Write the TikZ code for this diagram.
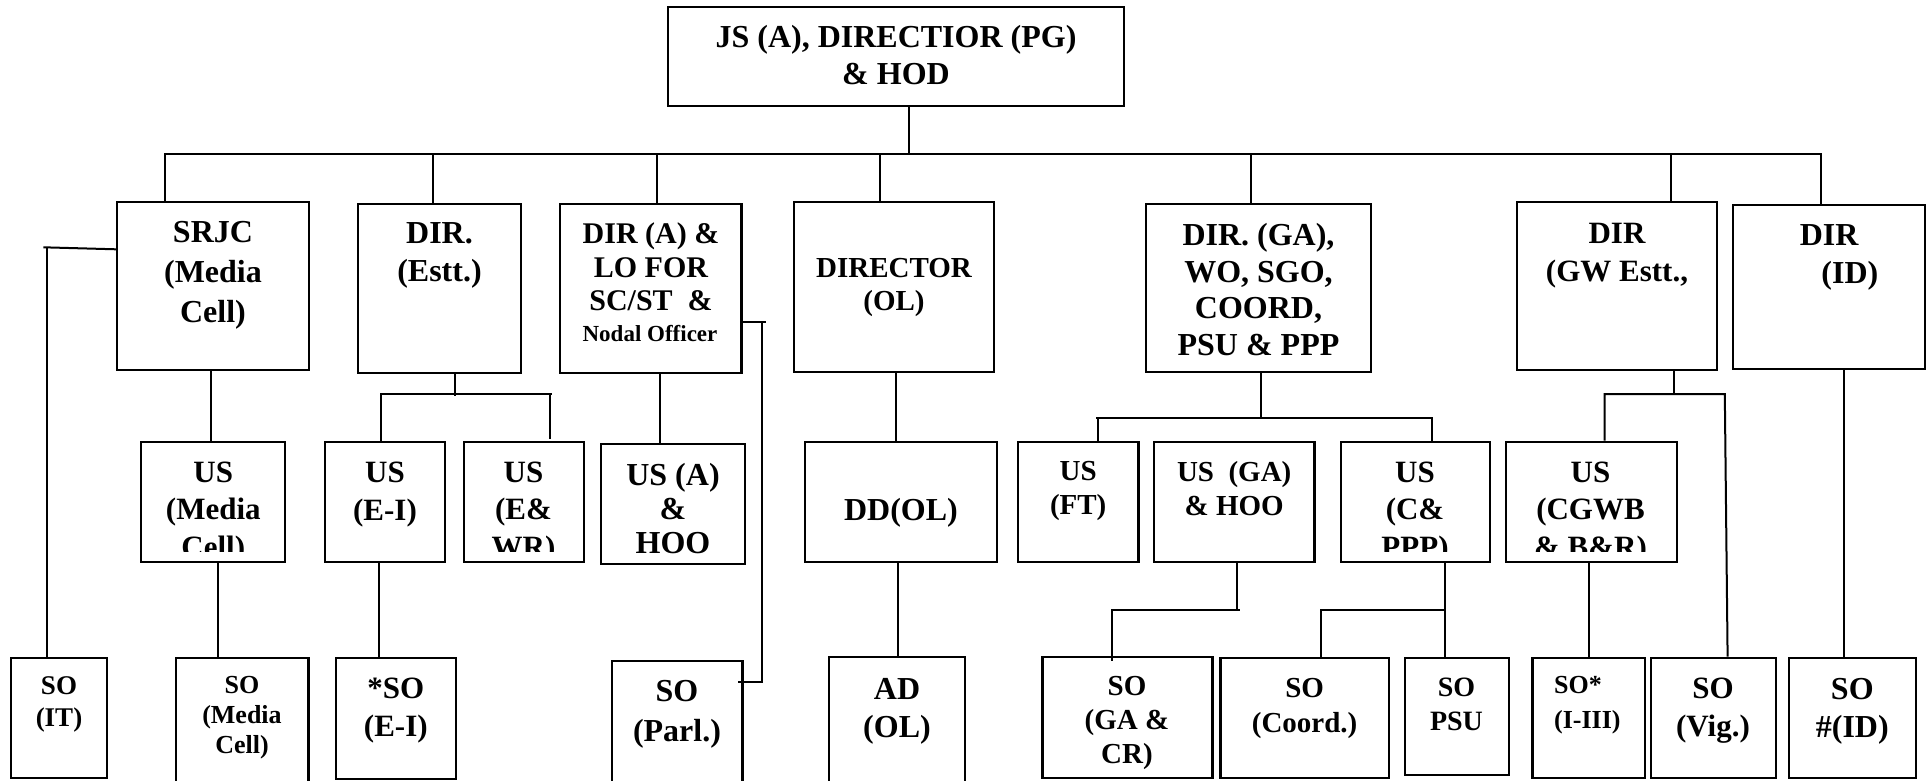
\documentclass[tikz,border=0pt]{standalone}
\usepackage{fontspec}
\setmainfont{Liberation Serif}
\usetikzlibrary{fit}
\newcommand\fsz[2]{\fontsize{#1}{#2}\selectfont\bfseries}
\begin{document}
\begin{tikzpicture}[x=0.5pt,y=-0.5pt,
  box/.style={draw,line width=1.1pt,inner sep=0pt},
  conn/.style={line width=1pt},
  txt/.style={inner sep=0pt,anchor=north,align=center}]
\fill[white] (0,0) rectangle (1927,781);
\useasboundingbox (0,0) rectangle (1927,781);
% ---------- boxes ----------
\node[box,fit={(668,7.3) (1124,105.7)}] (js) {};
\node[box,fit={(117,202) (309,370)}] (srjc) {};
\node[box,fit={(358,204) (521,373)}] (estt) {};
\node[box,fit={(560,204) (741.5,373)}] (dira) {};
\node[box,fit={(794,202) (994,372)}] (dirol) {};
\node[box,fit={(1146,204) (1370.6,372)}] (dirga) {};
\node[box,fit={(1517,202) (1717,370)}] (dirgw) {};
\node[box,fit={(1733,205) (1924.6,369)}] (dirid) {};
\node[box,fit={(141,441.7) (284.8,562)}] (usmc) {};
\node[box,fit={(325,442) (445,562.3)}] (usei) {};
\node[box,fit={(463.8,442) (584,561.7)}] (usewr) {};
\node[box,fit={(601,444.3) (745,564.3)}] (usa) {};
\node[box,fit={(805,441.7) (997,562)}] (ddol) {};
\node[box,fit={(1018,441.7) (1138.4,562)}] (usft) {};
\node[box,fit={(1154,441.7) (1314.5,562)}] (usga) {};
\node[box,fit={(1341,441.7) (1489.8,562)}] (uscp) {};
\node[box,fit={(1506,441.7) (1677,562)}] (uscg) {};
\node[box,fit={(11,657.7) (107,777.7)}] (soit) {};
\node[box,fit={(176,657.7) (308.5,790)}] (somc) {};
\node[box,fit={(335.7,657.7) (455.8,778.7)}] (soei) {};
\node[box,fit={(611.6,660.7) (742.4,790)}] (soparl) {};
\node[box,fit={(829,657.3) (964.7,790)}] (adol) {};
\node[box,fit={(1042.4,657.3) (1212.5,777.7)}] (soga) {};
\node[box,fit={(1220.5,657.7) (1388.7,777.7)}] (socoord) {};
\node[box,fit={(1405,657.7) (1509,775.3)}] (sopsu) {};
\node[box,fit={(1532.4,657.7) (1645,778)}] (soiii) {};
\node[box,fit={(1650.6,657.7) (1775.8,778)}] (sovig) {};
\node[box,fit={(1788.8,657.7) (1916.3,778)}] (soid) {};
% ---------- connectors ----------
\draw[conn] (909,0 |- js.south) -- (909,154);
\draw[conn] (165,0 |- srjc.north) -- (165,154) -- (1821,154) -- (1821,0 |- dirid.north);
\draw[conn] (433,154) -- (433,0 |- estt.north);
\draw[conn] (657,154) -- (657,0 |- dira.north);
\draw[conn] (879.5,154) -- (879.5,0 |- dirol.north);
\draw[conn] (1250.5,154) -- (1250.5,0 |- dirga.north);
\draw[conn] (1670.6,154) -- (1670.6,0 |- dirgw.north);
% SRJC -> SO (IT)
\draw[conn] (43.3,247.3) -- (srjc.west |- 0,249.3);
\draw[conn] (46.9,248) -- (46.9,0 |- soit.north);
% SRJC -> US media -> SO media
\draw[conn] (210.7,0 |- srjc.south) -- (210.7,0 |- usmc.north);
\draw[conn] (218.3,0 |- usmc.south) -- (218.3,0 |- somc.north);
% Estt
\draw[conn] (454.5,0 |- estt.south) -- (454.5,396);
\draw[conn] (380.8,0 |- usei.north) -- (380.8,394) -- (552,394);
\draw[conn] (550,394) -- (550,439);
\draw[conn] (378.6,0 |- usei.south) -- (378.6,0 |- soei.north);
% DIR (A)
\draw[conn] (660,0 |- dira.south) -- (660,0 |- usa.north);
\draw[conn] (dira.east |- 0,322.3) -- (766,322.3);
\draw[conn] (762,322.3) -- (762,682) -- (738.4,682);
% OL
\draw[conn] (895.5,0 |- dirol.south) -- (895.5,0 |- ddol.north);
\draw[conn] (898,0 |- ddol.south) -- (898,0 |- adol.north);
% GA
\draw[conn] (1261,0 |- dirga.south) -- (1261,417.7);
\draw[conn] (1096.4,417.7) -- (1431.8,417.7) -- (1431.8,0 |- uscp.north);
\draw[conn] (1098,417.7) -- (1098,0 |- usft.north);
\draw[conn] (1237,0 |- usga.south) -- (1237,610);
\draw[conn] (1111,610) -- (1240,610);
\draw[conn] (1111.6,610) -- (1111.6,661);
\draw[conn] (1444.8,0 |- uscp.south) -- (1444.8,0 |- sopsu.north);
\draw[conn] (1444.8,610) -- (1320.5,610) -- (1320.5,0 |- socoord.north);
% GW
\draw[conn] (1673.8,0 |- dirgw.south) -- (1673.8,394);
\draw[conn] (1604.7,0 |- uscg.north) -- (1604.7,394) -- (1724.8,394) -- (1727.6,0 |- sovig.north);
\draw[conn] (1589,0 |- uscg.south) -- (1589,0 |- soiii.north);
% ID
\draw[conn] (1844.4,0 |- dirid.south) -- (1844.4,0 |- soid.north);
% ---------- texts ----------
\node[txt,font=\fsz{16}{18.3}] (tjs) at (896,25) {JS (A), DIRECTIOR (PG)\\\& HOD};
\node[txt,font=\fsz{16}{20}] (tsrjc) at (213,220.5) {SRJC\\(Media\\Cell)};
\node[txt,font=\fsz{16}{19}] (testt) at (439.5,222) {DIR.\\(Estt.)};
\node[txt,font=\fsz{15}{16.75}] (tdira) at (651,222.5) {DIR (A) \&\\LO FOR\\SC/ST~~\&};
\node[txt,font=\fsz{11.5}{14}] (tnodal) at (650,324.5) {Nodal Officer};
\node[txt,font=\fsz{14.5}{16.5}] (tdirol) at (894,257.8) {DIRECTOR\\(OL)};
\node[txt,font=\fsz{16}{18.3}] (tdirga) at (1258.5,222.8) {DIR. (GA),\\WO, SGO,\\COORD,\\PSU \& PPP};
\node[txt,font=\fsz{15.5}{19}] (tdirgw) at (1617,222.8) {DIR\\(GW Estt.,};
\node[txt,anchor=north west,align=left,font=\fsz{16}{19}] (tdirid) at (1799.4,224.5) {DIR\\\hspace*{10.8pt}(ID)};
\begin{scope}
\clip (141,441.7) rectangle (284.8,551.7);
\node[txt,font=\fsz{15.5}{18.75}] (tusmc) at (213.3,461.2) {US\\(Media\\Cell)};
\end{scope}
\node[txt,font=\fsz{15.5}{19}] (tusei) at (385,461.2) {US\\(E-I)};
\begin{scope}
\clip (463.8,441.7) rectangle (584,551.7);
\node[txt,font=\fsz{15.5}{18.75}] (tusewr) at (523.5,461.2) {US\\(E\&\\WR)};
\end{scope}
\node[txt,font=\fsz{16}{17}] (tusa) at (673,462.8) {US (A)\\\&\\HOO};
\node[txt,font=\fsz{16}{19}] (tddol) at (901,497.8) {DD(OL)};
\node[txt,font=\fsz{14.5}{16.75}] (tusft) at (1078.2,461.2) {US\\(FT)};
\node[txt,font=\fsz{14.5}{16.75}] (tusga) at (1234.2,461.2) {US~~(GA)\\\& HOO};
\begin{scope}
\clip (1341,441.7) rectangle (1489.8,551.7);
\node[txt,font=\fsz{15.5}{18.75}] (tuscp) at (1415,461.2) {US\\(C\&\\PPP)};
\end{scope}
\begin{scope}
\clip (1506,441.7) rectangle (1677,551.7);
\node[txt,font=\fsz{15.5}{18.75}] (tuscg) at (1590.5,461.2) {US\\(CGWB\\\& B\&R)};
\end{scope}
\node[txt,font=\fsz{13.5}{16}] (tsoit) at (59,676.2) {SO\\(IT)};
\node[txt,font=\fsz{13}{15}] (tsomc) at (242,676.2) {SO\\(Media\\Cell)};
\node[txt,font=\fsz{15.5}{19}] (tsoei) at (395.8,677.8) {*SO\\(E-I)};
\node[txt,font=\fsz{16}{20}] (tsoparl) at (677,679.5) {SO\\(Parl.)};
\node[txt,font=\fsz{16}{19}] (tadol) at (897,677.8) {AD\\(OL)};
\node[txt,font=\fsz{14.5}{17}] (tsoga) at (1127,676.2) {SO\\(GA \&\\CR)};
\node[txt,font=\fsz{14.5}{17.5}] (tsocoord) at (1304.6,677.8) {SO\\(Coord.)};
\node[txt,font=\fsz{14}{16.7}] (tsopsu) at (1456.5,677.8) {SO\\PSU};
\node[txt,anchor=north west,align=left,font=\fsz{13}{17.5}] (tsoiii) at (1553.7,676.2) {SO*\\(I-III)};
\node[txt,font=\fsz{15.5}{19}] (tsovig) at (1713,677.8) {SO\\(Vig.)};
\node[txt,font=\fsz{16}{19}] (tsoid) at (1852.3,677.8) {SO\\\#(ID)};
\end{tikzpicture}
\end{document}
